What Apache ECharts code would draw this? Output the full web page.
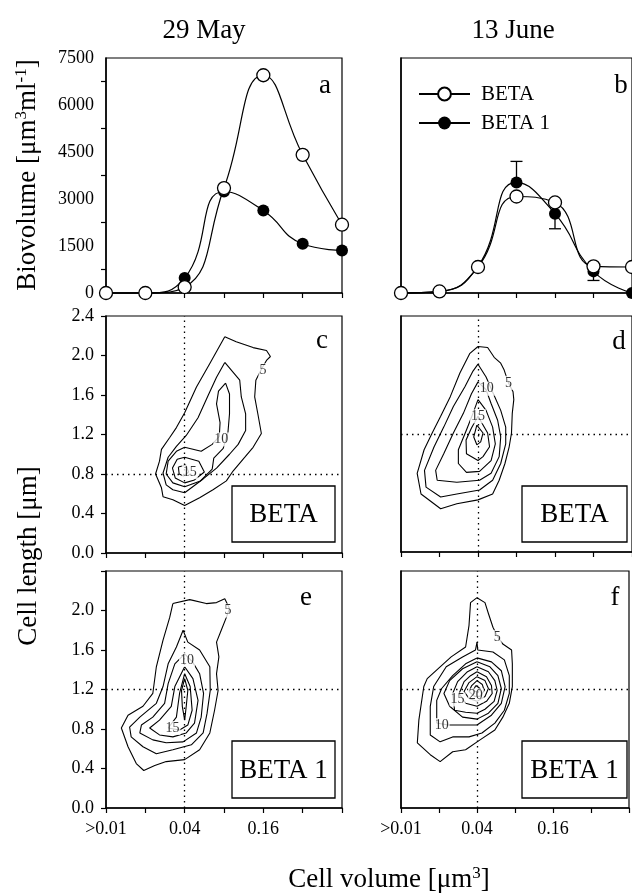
<!DOCTYPE html>
<html>
<head>
<meta charset="utf-8">
<script src="https://cdn.jsdelivr.net/npm/echarts@6/dist/echarts.min.js"></script>
<style>
  html, body { margin: 0; padding: 0; background: #fff; }
  #main { width: 632px; height: 893px; }
</style>
</head>
<body>
<div id="main"></div>
<script>
// size classes on the x axis (log2 steps of cell volume)
const sizeClass = [0, 1, 2, 3, 4, 5, 6];
const xTickLabels = ['>0.01', '', '0.04', '', '0.16', '', ''];

// biovolume, 29 May (panel a)
const mayBeta = [0, 0, 190, 3350, 6950, 4410, 2180];
const mayBeta1 = [0, 0, 480, 3240, 2630, 1570, 1360];
// biovolume, 13 June (panel b)
const juneBeta = [0, 50, 830, 3080, 2890, 850, 830];
const juneBeta1 = [0, 50, 850, 3530, 2530, 690, 0];
// error bars of BETA 1, 13 June
const juneErrX = [3, 4, 5];
const juneErrEnd = [4200, 2050, 400];

// contour lines, [size class, cell length um]
// c: BETA 29 May
const cLevel5 = [[3.02,2.19],[3.31,2.14],[3.74,2.08],[4.08,2.05],[4.18,1.99],[4.08,1.95],[3.95,1.86],[3.81,1.75],[3.78,1.58],[3.86,1.41],[3.95,1.21],[3.74,1.07],[3.53,0.97],[3.23,0.83],[3.06,0.73],[2.72,0.64],[2.38,0.56],[2.0,0.48],[1.70,0.54],[1.45,0.57],[1.41,0.66],[1.26,0.80],[1.36,0.93],[1.41,1.05],[1.62,1.17],[1.79,1.27],[2.0,1.42],[2.30,1.68],[2.64,1.92]];
const cLevel7 = [[3.02,1.93],[3.40,1.75],[3.44,1.58],[3.55,1.41],[3.55,1.24],[3.36,1.10],[3.14,1.0],[2.81,0.86],[2.47,0.75],[2.0,0.61],[1.70,0.64],[1.53,0.69],[1.45,0.81],[1.58,0.97],[1.79,1.08],[2.04,1.19],[2.34,1.37],[2.59,1.59],[2.81,1.78]];
const cLevel10 = [[3.04,1.72],[3.14,1.61],[3.14,1.41],[3.10,1.22],[2.98,1.06],[2.74,0.96],[2.70,0.85],[2.40,0.73],[2.0,0.67],[1.70,0.71],[1.53,0.80],[1.58,0.93],[1.79,1.03],[2.0,1.07],[2.42,1.03],[2.70,1.10],[2.88,1.18],[2.90,1.32],[2.81,1.51],[2.86,1.64]];
const cLevel15 = [[2.0,0.97],[2.36,0.93],[2.50,0.82],[2.25,0.74],[2.0,0.71],[1.76,0.76],[1.69,0.86],[1.81,0.95]];
const cLevel20 = [[1.84,0.87],[2.03,0.89],[2.10,0.82],[1.97,0.78],[1.86,0.80]];
const cLabels = [[3.99,1.85,'5'],[2.93,1.15,'10'],[2.13,0.82,'15']];

// d: BETA 13 June
const dLevel5 = [[2.0,2.09],[2.25,2.08],[2.42,1.98],[2.59,1.92],[2.68,1.85],[2.79,1.72],[2.91,1.63],[2.93,1.55],[2.89,1.41],[2.87,1.21],[2.81,1.07],[2.70,0.90],[2.55,0.73],[2.38,0.59],[2.0,0.53],[1.45,0.49],[1.03,0.44],[0.52,0.59],[0.42,0.80],[0.60,1.04],[0.81,1.21],[1.03,1.38],[1.28,1.58],[1.53,1.82],[1.79,2.02]];
const dLevel7 = [[2.0,1.91],[2.21,1.78],[2.40,1.61],[2.59,1.44],[2.72,1.27],[2.72,1.10],[2.59,0.90],[2.38,0.73],[2.04,0.63],[1.45,0.59],[1.03,0.56],[0.65,0.66],[0.61,0.83],[0.86,1.07],[1.11,1.27],[1.36,1.48],[1.66,1.68],[1.87,1.84]];
const dLevel10 = [[2.0,1.73],[2.21,1.65],[2.34,1.51],[2.51,1.34],[2.59,1.17],[2.55,0.97],[2.34,0.80],[2.04,0.73],[1.45,0.71],[0.94,0.73],[0.90,0.83],[1.11,1.0],[1.36,1.21],[1.62,1.41],[1.83,1.61]];
const dLevel12 = [[2.0,1.55],[2.21,1.44],[2.38,1.27],[2.45,1.10],[2.34,0.93],[2.04,0.82],[1.70,0.81],[1.49,0.90],[1.49,1.04],[1.70,1.24],[1.87,1.41]];
const dLevel15 = [[2.0,1.38],[2.25,1.21],[2.30,1.07],[2.13,0.97],[2.0,0.93],[1.70,1.0],[1.69,1.14],[1.83,1.26]];
const dLevel17 = [[1.97,1.29],[2.13,1.21],[2.07,1.12],[1.97,1.09],[1.89,1.17]];
const dLabels = [[2.79,1.72,'5'],[2.23,1.66,'10'],[2.0,1.38,'15']];

// e: BETA 1 29 May
const eLevel5 = [[1.70,2.07],[2.13,2.11],[2.55,2.07],[2.81,2.08],[3.02,2.12],[3.14,2.02],[3.06,1.93],[2.93,1.80],[2.81,1.68],[2.87,1.53],[2.81,1.36],[2.85,1.19],[2.76,0.99],[2.64,0.76],[2.38,0.59],[2.0,0.49],[1.53,0.47],[1.24,0.43],[0.96,0.38],[0.77,0.45],[0.56,0.62],[0.39,0.81],[0.56,0.94],[0.94,1.03],[1.19,1.16],[1.28,1.43],[1.45,1.70],[1.62,1.93]];
const eLevel7 = [[1.96,1.80],[2.08,1.68],[2.38,1.60],[2.64,1.43],[2.65,1.19],[2.57,0.96],[2.47,0.76],[2.17,0.64],[1.70,0.59],[1.28,0.55],[0.94,0.62],[0.64,0.72],[0.60,0.82],[0.86,0.92],[1.28,1.06],[1.45,1.23],[1.58,1.46],[1.79,1.63]];
const eLevel10 = [[2.0,1.56],[2.20,1.48],[2.38,1.36],[2.48,1.16],[2.42,0.92],[2.30,0.76],[1.96,0.67],[1.53,0.66],[1.19,0.69],[0.86,0.76],[0.90,0.84],[1.19,0.92],[1.49,1.06],[1.58,1.26],[1.75,1.46]];
const eLevel12 = [[2.0,1.43],[2.21,1.31],[2.34,1.09],[2.25,0.86],[2.04,0.76],[1.70,0.72],[1.36,0.74],[1.11,0.81],[1.36,0.89],[1.66,1.03],[1.75,1.23]];
const eLevel15 = [[2.0,1.36],[2.14,1.23],[2.19,0.99],[2.08,0.84],[1.87,0.79],[1.58,0.81],[1.79,0.92],[1.87,1.16]];
const eLevel17 = [[2.0,1.31],[2.08,1.19],[2.04,1.03],[2.0,0.89],[1.94,1.03],[1.92,1.19]];
const eLabels = [[3.10,2.0,'5'],[2.06,1.50,'10'],[1.69,0.81,'15']];

// f: BETA 1 13 June
const fLevel5 = [[2.0,2.13],[2.21,2.08],[2.30,1.97],[2.42,1.83],[2.55,1.73],[2.68,1.66],[2.91,1.60],[2.93,1.46],[2.93,1.23],[2.85,1.06],[2.68,0.92],[2.47,0.79],[2.08,0.69],[1.70,0.59],[1.36,0.57],[1.03,0.47],[0.77,0.54],[0.43,0.66],[0.47,0.89],[0.60,1.23],[0.69,1.31],[1.03,1.43],[1.32,1.53],[1.70,1.63],[1.79,1.85],[1.83,2.08]];
const fLevel7 = [[2.0,1.68],[2.02,1.60],[2.42,1.58],[2.72,1.50],[2.85,1.34],[2.85,1.16],[2.72,0.99],[2.47,0.86],[2.13,0.76],[1.79,0.72],[1.36,0.72],[1.03,0.67],[0.77,0.74],[0.77,1.03],[0.86,1.23],[1.19,1.43],[1.62,1.53],[1.96,1.60]];
const fLevel10 = [[2.0,1.52],[2.38,1.48],[2.64,1.39],[2.74,1.23],[2.64,1.06],[2.38,0.94],[2.0,0.84],[1.24,0.84],[0.94,0.86],[0.94,1.09],[1.07,1.21],[1.36,1.34],[1.70,1.46]];
const fLevel12 = [[2.0,1.48],[2.34,1.43],[2.55,1.34],[2.64,1.21],[2.55,1.06],[2.30,0.96],[2.0,0.90],[1.62,0.92],[1.28,1.03],[1.13,1.16],[1.28,1.29],[1.62,1.41]];
const fLevel15 = [[2.0,1.43],[2.30,1.38],[2.47,1.29],[2.53,1.19],[2.45,1.08],[2.21,1.0],[2.0,0.96],[1.70,0.97],[1.41,0.99],[1.36,1.16],[1.49,1.28],[1.75,1.38]];
const fLevel17 = [[2.0,1.38],[2.25,1.33],[2.38,1.24],[2.40,1.16],[2.25,1.08],[2.0,1.03],[1.70,1.06],[1.53,1.16],[1.66,1.28],[1.83,1.34]];
const fLevel18 = [[2.0,1.33],[2.21,1.29],[2.30,1.21],[2.21,1.13],[2.0,1.08],[1.79,1.11],[1.66,1.18],[1.79,1.27]];
const fLevel20 = [[2.0,1.29],[2.14,1.25],[2.19,1.19],[2.08,1.13],[1.94,1.13],[1.79,1.18],[1.86,1.24]];
const fLevel22 = [[1.97,1.24],[2.08,1.21],[2.03,1.17],[1.90,1.19]];
const fLabels = [[2.53,1.73,'5'],[1.07,0.84,'10'],[1.49,1.10,'15'],[1.97,1.14,'20']];

const FONT = 'Liberation Serif';

const gridBoxes = [
  {left: 106, top: 58, width: 236, height: 235},  // a
  {left: 401, top: 58, width: 236, height: 235},  // b
  {left: 106, top: 316, width: 236, height: 237}, // c
  {left: 401, top: 316, width: 236, height: 236}, // d
  {left: 106, top: 571, width: 236, height: 237}, // e
  {left: 401, top: 571, width: 236, height: 237}  // f
];

const chart = echarts.init(document.getElementById('main'));

function makeXAxis(i) {
  return {
    type: 'value', gridIndex: i, min: 0, max: 6, interval: 1,
    axisLine: {onZero: false, lineStyle: {color: '#000', width: 1.5}},
    axisTick: {show: true, length: 5, lineStyle: {color: '#000', width: 1.2}},
    splitLine: {show: false},
    axisLabel: {
      show: i >= 4, margin: 12, color: '#000', fontFamily: FONT, fontSize: 18,
      formatter: v => xTickLabels[v] || ''
    }
  };
}

function makeYAxis(i) {
  const left = i % 2 === 0;
  const axis = {
    type: 'value', gridIndex: i,
    axisLine: {show: true, lineStyle: {color: '#000', width: 1.5}},
    splitLine: {show: false},
    axisTick: {show: false},
    axisLabel: {show: left, margin: 12, color: '#000', fontFamily: FONT, fontSize: 18}
  };
  if (i < 2) {
    axis.min = 0; axis.max = 7500; axis.interval = 1500;
    axis.axisLabel.formatter = v => String(v);
    // the ticks of the biovolume axis sit between the labels
    axis.minorTick = {show: left, splitNumber: 2, length: 5, lineStyle: {color: '#000', width: 1.2}};
  } else {
    axis.min = 0; axis.max = 2.4; axis.interval = 0.4;
    axis.axisTick = {show: left, length: 5, lineStyle: {color: '#000', width: 1.2}};
    axis.axisLabel.formatter = v => (i === 4 && v > 2.3) ? '' : v.toFixed(1);
  }
  return axis;
}

const series = [];

function curve(name, g, values, filled) {
  return {
    type: 'line', name: name, xAxisIndex: g, yAxisIndex: g,
    data: sizeClass.map((x, k) => [x, values[k]]),
    smooth: 0.5, clip: false,
    symbol: 'circle', symbolSize: filled ? 12 : 13,
    itemStyle: filled ? {color: '#000'} : {color: '#fff', borderColor: '#000', borderWidth: 1.3},
    lineStyle: {color: '#000', width: 1.2},
    z: filled ? 4 : 5
  };
}

series.push(curve('BETA 1', 0, mayBeta1, true));
series.push(curve('BETA', 0, mayBeta, false));
series.push(curve('BETA 1', 1, juneBeta1, true));
series.push(curve('BETA', 1, juneBeta, false));

// error bars (only one side is visible in the original)
series.push({
  type: 'custom', xAxisIndex: 1, yAxisIndex: 1, z: 3, silent: true,
  data: juneErrX.map((x, k) => [x, juneBeta1[x], juneErrEnd[k]]),
  renderItem: function (params, api) {
    const p1 = api.coord([api.value(0), api.value(1)]);
    const p2 = api.coord([api.value(0), api.value(2)]);
    const st = {stroke: '#000', lineWidth: 1.3};
    return {
      type: 'group',
      children: [
        {type: 'line', shape: {x1: p1[0], y1: p1[1], x2: p2[0], y2: p2[1]}, style: st},
        {type: 'line', shape: {x1: p2[0] - 6, y1: p2[1], x2: p2[0] + 6, y2: p2[1]}, style: st}
      ]
    };
  }
});

const contourPanels = [
  {grid: 2, levels: [cLevel5, cLevel7, cLevel10, cLevel15, cLevel20], labels: cLabels, refX: 2, refY: 0.8},
  {grid: 3, levels: [dLevel5, dLevel7, dLevel10, dLevel12, dLevel15, dLevel17], labels: dLabels, refX: 2, refY: 1.2},
  {grid: 4, levels: [eLevel5, eLevel7, eLevel10, eLevel12, eLevel15, eLevel17], labels: eLabels, refX: 2, refY: 1.2},
  {grid: 5, levels: [fLevel5, fLevel7, fLevel10, fLevel12, fLevel15, fLevel17, fLevel18, fLevel20, fLevel22], labels: fLabels, refX: 2, refY: 1.2}
];

contourPanels.forEach(function (p) {
  p.levels.forEach(function (ring, k) {
    const s = {
      type: 'line', xAxisIndex: p.grid, yAxisIndex: p.grid,
      data: ring.concat([ring[0]]),
      symbol: 'none', showSymbol: false, smooth: false, silent: true,
      lineStyle: {color: '#000', width: 1.1}, z: 3
    };
    if (k === 0) {
      // dotted reference lines
      s.markLine = {
        silent: true, symbol: ['none', 'none'], label: {show: false},
        lineStyle: {type: [1.5, 4], color: '#000', width: 1.3},
        data: [{xAxis: p.refX}, {yAxis: p.refY}]
      };
    }
    series.push(s);
  });
  series.push({
    type: 'scatter', xAxisIndex: p.grid, yAxisIndex: p.grid, silent: true, z: 6,
    symbolSize: 1, itemStyle: {color: 'rgba(0,0,0,0)'},
    data: p.labels.map(l => ({value: [l[0], l[1]], name: l[2]})),
    label: {
      show: true, position: 'inside', formatter: q => q.name,
      fontFamily: FONT, fontSize: 14, color: '#000',
      backgroundColor: '#fff', padding: [0, 1]
    }
  });
});

function boxText(x, y, w, h, txt) {
  return [
    {type: 'rect', z: 100, shape: {x: x, y: y, width: w, height: h},
     style: {fill: '#fff', stroke: '#000', lineWidth: 1.3}},
    {type: 'text', z: 101, x: x + w / 2, y: y + h / 2 + 1,
     style: {text: txt, fontFamily: FONT, fontSize: 27, fill: '#000', align: 'center', verticalAlign: 'middle'}}
  ];
}

function plainText(x, y, txt, size) {
  return {type: 'text', z: 100, x: x, y: y,
    style: {text: txt, fontFamily: FONT, fontSize: size, fill: '#000', align: 'center', verticalAlign: 'middle'}};
}

function sideTitle(x, y, txt) {
  return {type: 'text', z: 100, x: x, y: y, rotation: Math.PI / 2,
    style: {
      text: txt, fontFamily: FONT, fontSize: 27, fill: '#000', lineHeight: 30,
      align: 'center', verticalAlign: 'middle',
      rich: {sup: {fontFamily: FONT, fontSize: 17, fill: '#000', verticalAlign: 'top'}}
    }};
}

const graphics = [
  plainText(204, 31, '29 May', 27),
  plainText(513, 31, '13 June', 27),
  plainText(325, 86, 'a', 27),
  plainText(621, 86, 'b', 27),
  plainText(322, 341, 'c', 27),
  plainText(619, 342, 'd', 27),
  plainText(306, 598, 'e', 27),
  plainText(615, 598, 'f', 27),
  sideTitle(28, 175, 'Biovolume [μm{sup|3}ml{sup|-1}]'),
  sideTitle(29, 556, 'Cell length [μm]'),
  {type: 'text', z: 100, x: 389, y: 880,
   style: {
     text: 'Cell volume [μm{sup|3}]', fontFamily: FONT, fontSize: 27, fill: '#000', lineHeight: 30,
     align: 'center', verticalAlign: 'middle',
     rich: {sup: {fontFamily: FONT, fontSize: 17, fill: '#000', verticalAlign: 'top'}}
   }}
].concat(
  boxText(232, 486, 103, 56, 'BETA'),
  boxText(522, 486, 105, 56, 'BETA'),
  boxText(232, 741, 103, 57, 'BETA 1'),
  boxText(522, 741, 105, 57, 'BETA 1')
);

chart.setOption({
  animation: false,
  backgroundColor: '#fff',
  grid: gridBoxes.map(b => Object.assign({show: true, borderColor: '#000', borderWidth: 1.2}, b)),
  xAxis: gridBoxes.map((b, i) => makeXAxis(i)),
  yAxis: gridBoxes.map((b, i) => makeYAxis(i)),
  legend: {
    data: ['BETA', 'BETA 1'],
    orient: 'vertical', left: 413, top: 78,
    itemWidth: 51, itemHeight: 16, itemGap: 7,
    textStyle: {fontFamily: FONT, fontSize: 21, color: '#000', lineHeight: 22, padding: [0, 0, 0, 6]}
  },
  series: series,
  graphic: graphics
});
</script>
</body>
</html>
